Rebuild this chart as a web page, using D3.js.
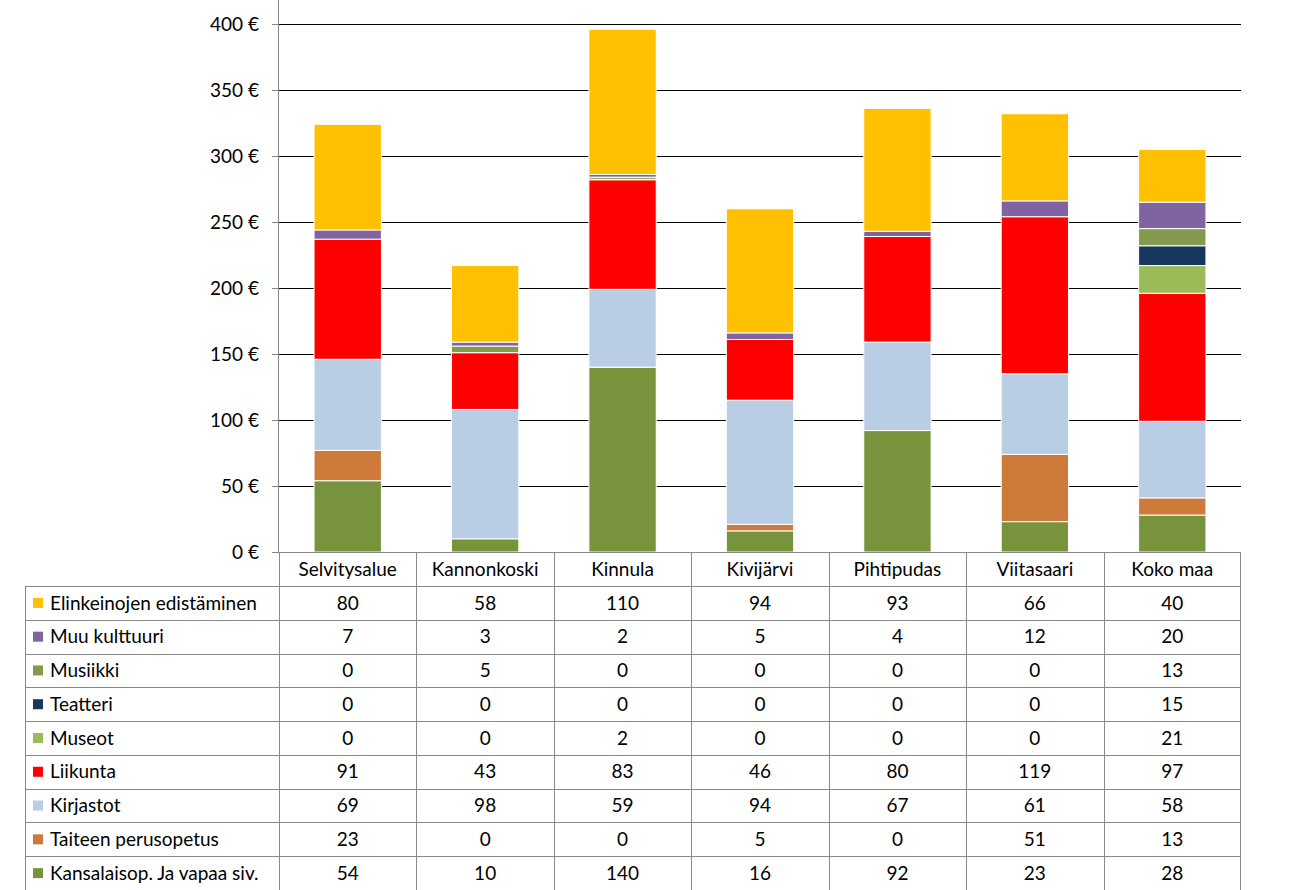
<!DOCTYPE html>
<html><head><meta charset="utf-8">
<script src="https://cdn.jsdelivr.net/npm/d3@7"></script>
<style>body{margin:0;background:#fff;} text{font-family:Lato,"Open Sans",sans-serif;}</style>
</head><body>
<svg id="c" width="1311" height="890"></svg>
<script>
const categories = ["Selvitysalue","Kannonkoski","Kinnula","Kivijärvi","Pihtipudas","Viitasaari","Koko maa"];
const seriesNames = ["Kansalaisop. Ja vapaa siv.","Taiteen perusopetus","Kirjastot","Liikunta","Museot","Teatteri","Musiikki","Muu kulttuuri","Elinkeinojen edistäminen"];
const seriesColors = ["#77933C","#CD7A3A","#B9CDE5","#FF0000","#9BBB59","#17375E","#839A4E","#8064A2","#FFC000"];
const kansalaisop = [54,10,140,16,92,23,28];
const taiteen = [23,0,0,5,0,51,13];
const kirjastot = [69,98,59,94,67,61,58];
const liikunta = [91,43,83,46,80,119,97];
const museot = [0,0,2,0,0,0,21];
const teatteri = [0,0,0,0,0,0,15];
const musiikki = [0,5,0,0,0,0,13];
const muuKulttuuri = [7,3,2,5,4,12,20];
const elinkeinot = [80,58,110,94,93,66,40];
const yTicks = [0,50,100,150,200,250,300,350,400];

(function(){
const FS = 19;
const seriesValues = [kansalaisop,taiteen,kirjastot,liikunta,museot,teatteri,musiikki,muuKulttuuri,elinkeinot];
const rows = categories.map((c,i)=>{const o={cat:c}; seriesNames.forEach((s,j)=>o[s]=seriesValues[j][i]); return o;});

const svg = d3.select("#c");
const pLeft = 279, pRight = 1241, pTop = 24, pBottom = 552;
const x = d3.scaleBand().domain(categories).range([pLeft,pRight]).paddingInner(0).paddingOuter(0);
const y = d3.scaleLinear().domain([0,400]).range([pBottom,pTop]);

svg.append("g").selectAll("line").data(yTicks.slice(1)).join("line")
  .attr("x1",pLeft).attr("x2",pRight).attr("y1",d=>Math.round(y(d))+0.5).attr("y2",d=>Math.round(y(d))+0.5)
  .attr("stroke","#000").attr("stroke-width",1);

const stack = d3.stack().keys(seriesNames)(rows);
const bw = x.bandwidth()*0.49;
svg.append("g").selectAll("g").data(stack).join("g")
  .attr("fill",(d,i)=>seriesColors[i])
  .selectAll("rect").data(d=>d.filter(p=>p[1]-p[0]>0)).join("rect")
  .attr("x",d=>x(d.data.cat)+(x.bandwidth()-bw)/2)
  .attr("width",bw)
  .attr("y",d=>y(d[1]))
  .attr("height",d=>y(d[0])-y(d[1]))
  .attr("stroke","#fff").attr("stroke-width",1);

const ax = svg.append("g").attr("transform",`translate(${pLeft},0)`)
  .call(d3.axisLeft(y).tickValues(yTicks).tickSize(7).tickPadding(13).tickFormat(d=>d+" €"));
ax.select(".domain").attr("stroke","#868686").attr("d",`M-0.5,0V${pBottom}`);
ax.selectAll(".tick line").attr("stroke","#868686");
ax.selectAll(".tick text").attr("font-size",FS).attr("fill","#000").attr("font-family","Lato,sans-serif");

const headH = 34, rowH = (890-586)/9, tblLeft = 25;
const g = svg.append("g");
const lineC = "#898989";
categories.forEach(c=>{
  g.append("text").attr("x",x(c)+x.bandwidth()/2).attr("y",pBottom+headH/2).attr("dy","0.35em")
   .attr("text-anchor","middle").attr("font-size",FS).text(c);
});
const tableSeries = seriesNames.map((s,i)=>i).reverse();
tableSeries.forEach((si,r)=>{
  const yy = 586 + r*rowH;
  g.append("rect").attr("x",33).attr("y",yy+rowH/2-5).attr("width",10).attr("height",10).attr("fill",seriesColors[si]);
  g.append("text").attr("x",50).attr("y",yy+rowH/2).attr("dy","0.35em").attr("font-size",FS).text(seriesNames[si]);
  categories.forEach((c,ci)=>{
    g.append("text").attr("x",x(c)+x.bandwidth()/2).attr("y",yy+rowH/2).attr("dy","0.35em")
     .attr("text-anchor","middle").attr("font-size",FS).text(seriesValues[si][ci]);
  });
});
const hl = [586]; for(let r=1;r<=9;r++) hl.push(586+r*rowH);
hl.forEach(yy=>{
  g.append("line").attr("x1",tblLeft).attr("x2",pRight).attr("y1",Math.round(yy)+0.5).attr("y2",Math.round(yy)+0.5).attr("stroke",lineC);
});
g.append("line").attr("x1",pLeft).attr("x2",pRight).attr("y1",pBottom+0.5).attr("y2",pBottom+0.5).attr("stroke",lineC);
g.append("line").attr("x1",tblLeft+0.5).attr("x2",tblLeft+0.5).attr("y1",586).attr("y2",890).attr("stroke",lineC);
categories.forEach(c=>{
  const xx = Math.round(x(c))+0.5;
  g.append("line").attr("x1",xx).attr("x2",xx).attr("y1",pBottom).attr("y2",890).attr("stroke",lineC);
});
g.append("line").attr("x1",pRight-0.5).attr("x2",pRight-0.5).attr("y1",pBottom).attr("y2",890).attr("stroke",lineC);
})();
</script>
</body></html>
